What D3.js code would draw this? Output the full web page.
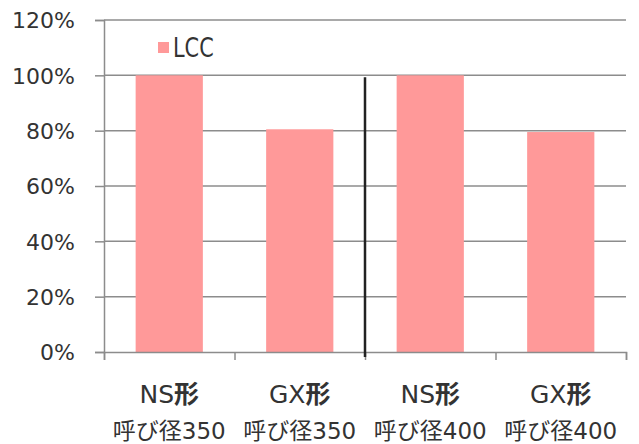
<!DOCTYPE html>
<html>
<head>
<meta charset="utf-8">
<script src="https://cdn.jsdelivr.net/npm/d3@7"></script>
<style>
  body { margin: 0; background: #fff; }
  text { font-family: "DejaVu Sans", "Noto Sans CJK JP", sans-serif; fill: #333; }
</style>
</head>
<body>
<div id="chart"></div>
<script>
const w = 639;
const h = 444;

// Données
const shapes = ["NS", "GX", "NS", "GX"];
const sizes = ["呼び径350", "呼び径350", "呼び径400", "呼び径400"];
const lcc = [1.0, 0.805, 1.0, 0.795];
const yTicks = [0, 0.2, 0.4, 0.6, 0.8, 1.0, 1.2];
const seriesName = "LCC";

const margin = { left: 104, right: 13, top: 20, bottom: 92 };
const fontMain = '"DejaVu Sans", "Noto Sans CJK JP", sans-serif';

const svg = d3.select("#chart").append("svg")
  .attr("width", w)
  .attr("height", h);

const x = d3.scaleBand()
  .domain(d3.range(lcc.length))
  .range([margin.left, w - margin.right])
  .paddingInner(0.485)
  .paddingOuter(0.2425);

const xEdge = d3.scaleLinear()
  .domain([0, lcc.length])
  .range([margin.left, w - margin.right]);

const y = d3.scaleLinear()
  .domain([0, 1.2])
  .range([h - margin.bottom, margin.top]);

// Grille horizontale
svg.append("g")
  .selectAll("line")
  .data(yTicks.slice(1))
  .join("line")
  .attr("x1", margin.left)
  .attr("x2", w - margin.right)
  .attr("y1", d => y(d))
  .attr("y2", d => y(d))
  .attr("stroke", "#8c8c8c")
  .attr("stroke-width", 1.5);

// Barres
svg.append("g")
  .selectAll("rect")
  .data(lcc)
  .join("rect")
  .attr("x", (d, i) => x(i))
  .attr("y", d => y(d))
  .attr("width", x.bandwidth())
  .attr("height", d => y(0) - y(d))
  .attr("fill", "#ff9999");

// Axe Y
const yAxis = svg.append("g")
  .attr("transform", `translate(${margin.left},0)`)
  .call(d3.axisLeft(y).tickValues(yTicks).tickFormat(d3.format(".0%")).tickSize(9).tickPadding(20));
yAxis.select(".domain").attr("stroke", "#8c8c8c").attr("stroke-width", 1.5);
yAxis.selectAll(".tick line").attr("stroke", "#8c8c8c").attr("stroke-width", 1.5);
yAxis.selectAll(".tick text")
  .attr("fill", "#333")
  .attr("dy", "0.36em")
  .style("font-size", "22px")
  .style("font-family", fontMain);

// Axe X
const xAxis = svg.append("g")
  .attr("transform", `translate(0,${y(0)})`)
  .call(d3.axisBottom(xEdge).tickValues(d3.range(lcc.length + 1)).tickFormat("").tickSize(8));
xAxis.select(".domain").attr("stroke", "#8c8c8c").attr("stroke-width", 1.5);
xAxis.selectAll(".tick line").attr("stroke", "#8c8c8c").attr("stroke-width", 1.5);

// Séparateur vertical
svg.append("line")
  .attr("x1", xEdge(2))
  .attr("x2", xEdge(2))
  .attr("y1", y(1.0) + 2)
  .attr("y2", y(0) + 5)
  .attr("stroke", "#222")
  .attr("stroke-width", 2.5);

// Étiquettes des catégories
const labels = svg.append("g")
  .selectAll("g")
  .data(shapes)
  .join("g")
  .attr("transform", (d, i) => `translate(${x(i) + x.bandwidth() / 2},0)`);

const line1 = labels.append("text")
  .attr("y", 403)
  .attr("text-anchor", "middle")
  .style("font-size", "25px")
  .style("font-family", fontMain);
line1.append("tspan").text(d => d);
line1.append("tspan")
  .attr("font-weight", "bold")
  .style("font-family", '"Noto Sans CJK JP", sans-serif')
  .text("形");

labels.append("text")
  .attr("y", 439)
  .attr("text-anchor", "middle")
  .style("font-size", "23px")
  .style("font-family", fontMain)
  .text((d, i) => sizes[i]);

// Légende
const legend = svg.append("g").attr("transform", "translate(158,42)");
legend.append("rect")
  .attr("width", 11)
  .attr("height", 11)
  .attr("fill", "#ff9999");
legend.append("text")
  .attr("transform", "translate(15,15) scale(0.89,1)")
  .style("font-size", "26px")
  .style("font-family", '"DejaVu Sans Condensed", sans-serif')
  .text(seriesName);
</script>
</body>
</html>
